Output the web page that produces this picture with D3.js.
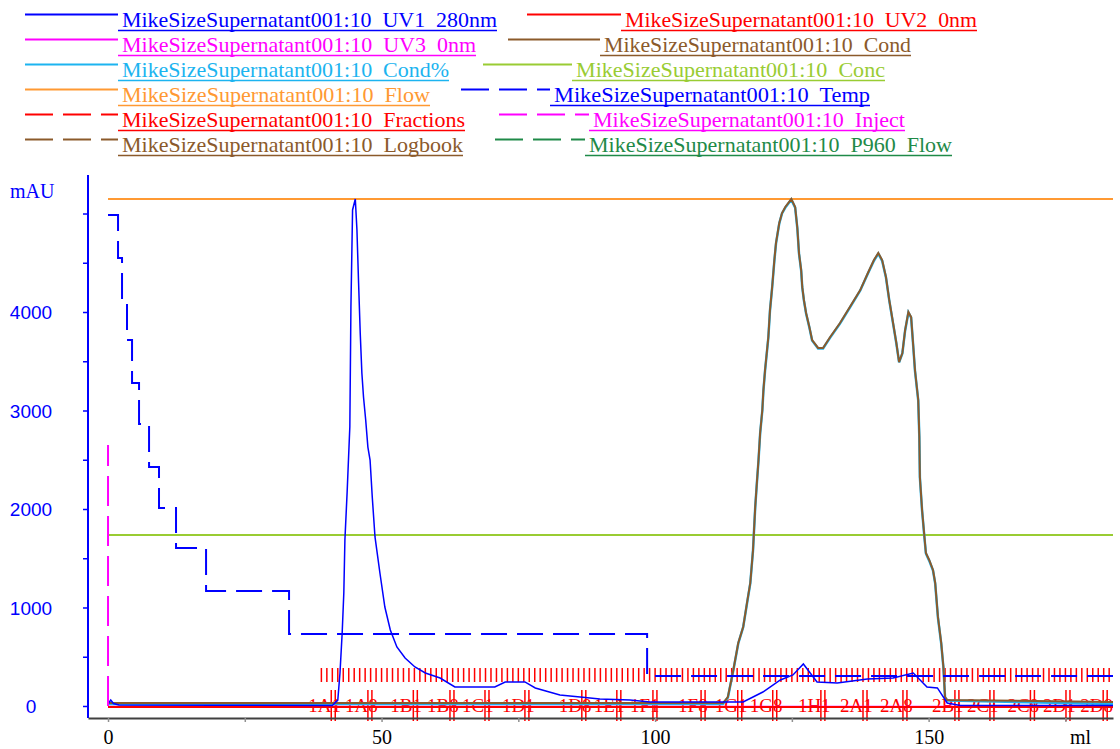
<!DOCTYPE html>
<html>
<head>
<meta charset="utf-8">
<script src="https://cdn.jsdelivr.net/npm/d3@7"></script>
<style>
  body { margin: 0; background: #fff; }
  svg { display: block; }
</style>
</head>
<body>
<div id="chart"></div>
<script>
// ---- DATA (ml, mAU) ----
const uv1 = [
  [0, 20], [0.5, 60], [1, 25], [2, 10], [20, 8], [41, 5], [42.0, 60], [42.4, 335], [42.8, 741],
  [43.1, 1147], [43.3, 1685], [43.7, 2162], [44.1, 2701], [44.2, 2832], [44.4, 4051], [44.7, 5036],
  [45.2, 5147], [45.5, 4832], [45.8, 4294], [46.1, 3787], [46.4, 3381], [46.7, 3137], [47.1, 2904],
  [47.5, 2629], [47.9, 2497], [48.3, 2122], [48.8, 1716], [49.7, 1350], [50.6, 1005], [51.6, 772],
  [52.8, 599], [54.3, 487], [56.1, 396], [58.0, 335], [60.7, 284], [63.4, 193], [70.7, 193],
  [72.6, 244], [76.2, 244], [78.1, 183], [82.6, 112], [86.3, 91], [89.9, 71], [95.4, 61],
  [99.1, 41], [108.2, 41], [116.1, 41], [119.7, 142], [122.9, 264], [125.2, 315], [127.1, 426],
  [129.6, 244], [133.3, 234], [138.8, 274], [143.5, 284], [147.2, 335], [149.7, 193], [151.6, 183],
  [153.4, 30], [155.8, 5], [183.7, 5]
];
const uv2 = [[0, -10], [183.7, -10]];
const uv3 = [[0, -5], [183.7, -5]];
const cond = [
  [0, 30], [112.4, 30], [113.3, 91], [114.3, 365], [115.2, 640], [116.1, 802], [116.8, 1046],
  [117.4, 1249], [117.9, 1584], [118.3, 2020], [118.6, 2264], [118.9, 2497], [119.2, 2772],
  [119.6, 3005], [119.8, 3208], [120.1, 3411], [120.7, 3746], [121.0, 4020], [121.4, 4254],
  [121.8, 4528], [122.1, 4701], [122.7, 4904], [123.2, 5005], [123.8, 5066], [124.9, 5147],
  [125.6, 5066], [126.0, 4853], [126.3, 4599], [126.7, 4426], [126.9, 4254], [127.2, 4122],
  [127.6, 3990], [128.2, 3848], [128.7, 3716], [129.8, 3635], [130.7, 3635], [132.0, 3746],
  [133.8, 3888], [135.6, 4051], [137.5, 4223], [138.9, 4396], [140.0, 4528], [140.8, 4599],
  [141.5, 4528], [142.2, 4355], [142.8, 4122], [143.5, 3888], [144.1, 3685], [144.6, 3492],
  [145.2, 3584], [145.7, 3817], [146.3, 4000], [146.8, 3949], [147.2, 3645], [147.5, 3411],
  [148.1, 3107], [148.3, 2731], [148.4, 2325], [148.8, 1990], [149.2, 1736], [149.5, 1553],
  [150.1, 1482], [150.8, 1381], [151.2, 1249], [151.7, 904], [152.3, 640], [152.7, 396],
  [153.0, 91], [153.4, 61], [183.7, 41]
];
const condPct = [
  [0, 20], [112.4, 20], [113.3, 85], [114.3, 360], [115.2, 635], [116.1, 800], [116.8, 1040],
  [117.4, 1245], [117.9, 1580], [118.3, 2015], [118.6, 2260], [118.9, 2490], [119.2, 2765],
  [119.6, 3000], [119.8, 3200], [120.1, 3405], [120.7, 3740], [121.0, 4015], [121.4, 4250],
  [121.8, 4520], [122.1, 4695], [122.7, 4900], [123.2, 5000], [123.8, 5060], [124.9, 5140],
  [125.6, 5060], [126.0, 4850], [126.3, 4595], [126.7, 4420], [126.9, 4250], [127.2, 4118],
  [127.6, 3985], [128.2, 3842], [128.7, 3710], [129.8, 3630], [130.7, 3630], [132.0, 3740],
  [133.8, 3882], [135.6, 4045], [137.5, 4218], [138.9, 4390], [140.0, 4520], [140.8, 4592],
  [141.5, 4520], [142.2, 4350], [142.8, 4118], [143.5, 3882], [144.1, 3680], [144.6, 3488],
  [145.2, 3580], [145.7, 3810], [146.3, 3995], [146.8, 3942], [147.2, 3640], [147.5, 3405],
  [148.1, 3100], [148.3, 2725], [148.4, 2320], [148.8, 1985], [149.2, 1730], [149.5, 1548],
  [150.1, 1476], [150.8, 1375], [151.2, 1243], [151.7, 898], [152.3, 634], [152.7, 390],
  [153.0, 85], [153.4, 55], [183.7, 20]
];
const temp = [
  [0, 4985], [1.83, 4548], [2.56, 4122], [3.47, 3716], [4.39, 3279], [5.67, 2863], [7.5, 2426],
  [9.32, 2010], [12.43, 1604], [17.92, 1168], [33.09, 731], [98.54, 305], [183.7, 305]
];
const flow = [[0, 5147], [183.7, 5147]];
const conc = [[0, 1736], [183.7, 1736]];
const inject = [[0, 0], [0, 2650]];

// fraction marks (ml) and fraction labels
const fractionTicks = [
  39, 40, 41, 42, 43, 44, 45, 46, 47, 48, 49, 50, 51, 52, 53, 54, 55, 56, 57, 58, 59, 60, 61, 62, 63,
  64, 65, 66, 67, 68, 69, 70, 71, 72, 73, 74, 75, 76, 77, 78, 79, 80, 81, 82, 83, 84, 85, 86, 87, 88,
  89, 90, 91, 92, 93, 94, 95, 96, 97, 98, 99, 100, 101, 102, 103, 104, 105, 106, 107, 108, 109, 110,
  111, 112, 113, 114, 115, 116, 117, 118, 119, 120, 121, 122, 123, 124, 125, 126, 127, 128, 129, 130,
  131, 132, 133, 134, 135, 136, 137, 138, 139, 140, 141, 142, 143, 144, 145, 146, 147, 148, 149, 150,
  151, 152, 153, 154, 155, 156, 157, 158, 159, 160, 161, 162, 163, 164, 165, 166, 167, 168, 169, 170,
  171, 172, 173, 174, 175, 176, 177, 178, 179, 180, 181, 182, 183
];
const fractionNames = ["1A1", "1A8", "1B1", "1B8", "1C1", "1D1", "1D8", "1E1", "1F1", "1F8",
  "1G1", "1G8", "1H1", "2A1", "2A8", "2B1", "2C1", "2C8", "2D1", "2D8"];
const fractionMl = [36.6, 43.3, 51.6, 58.3, 64.7, 72.0, 82.4, 88.8, 95.4, 104.2,
  110.9, 117.3, 126.1, 133.8, 141.1, 150.6, 157.0, 164.4, 170.9, 177.7];

const yTickLabels = [0, 1000, 2000, 3000, 4000];
const xTickLabels = [0, 50, 100, 150];

const runName = "MikeSizeSupernatant001:10  ";
const legendNames = ["UV1  280nm", "UV2  0nm", "UV3  0nm", "Cond", "Cond%", "Conc",
  "Flow", "Temp", "Fractions", "Inject", "Logbook", "P960  Flow"];

// ---- STYLE / LAYOUT ----
const col = {
  blue: "#0000ff", red: "#ff0000", magenta: "#ff00ff", brown: "#8b5a2b",
  cyan: "#1cb4f0", conc: "#99cc33", flow: "#ff9933", green: "#1f8a48"
};
const legendStyle = [
  { c: col.blue, dash: null },    { c: col.red, dash: null },
  { c: col.magenta, dash: null }, { c: col.brown, dash: null },
  { c: col.cyan, dash: null },    { c: col.conc, dash: null },
  { c: col.flow, dash: null },    { c: col.blue, dash: "28,10" },
  { c: col.red, dash: "28,10" },  { c: col.magenta, dash: "28,10" },
  { c: col.brown, dash: "28,10" },{ c: col.green, dash: "28,10" }
];
// [lineStart, lineEnd, textEnd] per legend entry
const legendPos = [
  [25, 118, 497], [527, 621, 977],
  [25, 118, 476], [508, 600, 911],
  [25, 118, 449], [483, 572, 885],
  [25, 118, 430], [461, 550, 870],
  [25, 118, 465], [499, 589, 905],
  [25, 118, 463], [495, 585, 952]
];

const W = 1120, H = 749;
const svg = d3.select("#chart").append("svg")
  .attr("width", W).attr("height", H)
  .style("font-family", "'Liberation Serif', 'Times New Roman', serif");

const x = d3.scaleLinear().domain([-3.66, 183.7]).range([88, 1113]);
const y = d3.scaleLinear().domain([-122, 5391]).range([718, 175]);

const line = d3.line().x(d => x(d[0])).y(d => y(d[1]));

// ---- LEGEND ----
const leg = svg.append("g").attr("class", "legend");
legendNames.forEach((name, i) => {
  const row = Math.floor(i / 2);
  const [x0, x1, x2] = legendPos[i];
  const st = legendStyle[i];
  const g = leg.append("g").attr("transform", `translate(0,${row * 25})`);
  g.append("line")
    .attr("x1", x0).attr("x2", x1).attr("y1", 14.5).attr("y2", 14.5)
    .attr("stroke", st.c).attr("stroke-width", 2)
    .attr("stroke-dasharray", st.dash);
  g.append("text")
    .attr("x", x1 + 4).attr("y", 27)
    .attr("fill", st.c)
    .style("font-size", "21px")
    .style("white-space", "pre")
    .attr("textLength", x2 - x1 - 4)
    .attr("lengthAdjust", "spacingAndGlyphs")
    .text(runName + name);
  g.append("line")
    .attr("x1", x1).attr("x2", x2).attr("y1", 30.5).attr("y2", 30.5)
    .attr("stroke", st.c).attr("stroke-width", 1.5);
});

// ---- CURVES ----
const plot = svg.append("g").attr("class", "plot");

plot.append("path").datum(flow).attr("d", line)
  .attr("fill", "none").attr("stroke", col.flow).attr("stroke-width", 2);
plot.append("path").datum(conc).attr("d", line)
  .attr("fill", "none").attr("stroke", col.conc).attr("stroke-width", 2);

// fractions
const frac = plot.append("g").attr("class", "fractions");
frac.selectAll("line.tick")
  .data(fractionTicks).enter().append("line")
  .attr("class", "tick")
  .attr("x1", d => x(d)).attr("x2", d => x(d))
  .attr("y1", 668).attr("y2", 682)
  .attr("stroke", col.red).attr("stroke-width", 1.5);
frac.selectAll("line.bar")
  .data(fractionMl).enter().append("line")
  .attr("class", "bar")
  .attr("x1", d => x(d) + 23).attr("x2", d => x(d) + 23)
  .attr("y1", 690).attr("y2", 721)
  .attr("stroke", col.red).attr("stroke-width", 1.5);
frac.selectAll("line.bar2")
  .data(fractionMl).enter().append("line")
  .attr("class", "bar2")
  .attr("x1", d => x(d) + 27).attr("x2", d => x(d) + 27)
  .attr("y1", 690).attr("y2", 721)
  .attr("stroke", col.red).attr("stroke-width", 1.5);
frac.selectAll("text")
  .data(fractionNames).enter().append("text")
  .attr("x", (d, i) => x(fractionMl[i]))
  .attr("y", 712)
  .attr("fill", col.red)
  .style("font-size", "19px")
  .text(d => d);

plot.append("path").datum(uv3).attr("d", line)
  .attr("fill", "none").attr("stroke", col.magenta).attr("stroke-width", 1.5);
plot.append("path").datum(uv2).attr("d", line)
  .attr("fill", "none").attr("stroke", col.red).attr("stroke-width", 2);
plot.append("path").datum(condPct).attr("d", line)
  .attr("fill", "none").attr("stroke", col.cyan).attr("stroke-width", 2.5);
plot.append("path").datum(cond).attr("d", line)
  .attr("fill", "none").attr("stroke", col.brown).attr("stroke-width", 2);
plot.append("path").datum(uv1).attr("d", line)
  .attr("fill", "none").attr("stroke", col.blue).attr("stroke-width", 1.5);
plot.append("path").datum(temp)
  .attr("d", d3.line().x(d => x(d[0])).y(d => y(d[1])).curve(d3.curveStepAfter))
  .attr("fill", "none").attr("stroke", col.blue).attr("stroke-width", 2)
  .attr("stroke-dasharray", "26,10");
plot.append("path").datum(inject).attr("d", line)
  .attr("fill", "none").attr("stroke", col.magenta).attr("stroke-width", 2)
  .attr("stroke-dasharray", "30,10");

// ---- AXES ----
const yAxis = svg.append("g")
  .attr("transform", "translate(88,0)")
  .call(d3.axisLeft(y)
    .tickValues(d3.range(0, 5001, 500))
    .tickSize(5).tickSizeOuter(0)
    .tickFormat(d => yTickLabels.includes(d) ? d : ""));
yAxis.select(".domain").attr("stroke", col.blue).attr("stroke-width", 2);
yAxis.selectAll(".tick line").attr("stroke", col.blue).attr("stroke-width", 1.5);
yAxis.selectAll(".tick text")
  .attr("x", -57).attr("dy", "0.36em")
  .attr("text-anchor", "middle")
  .attr("fill", col.blue)
  .style("font-family", "'Liberation Sans', Arial, sans-serif")
  .style("font-size", "19px");
// stretch the axis line up to the top
yAxis.select(".domain").attr("d", "M0,175V718");

svg.append("text")
  .attr("x", 10).attr("y", 198)
  .attr("fill", col.blue)
  .style("font-size", "20px")
  .text("mAU");

const xAxis = svg.append("g")
  .attr("transform", "translate(0,718)")
  .call(d3.axisBottom(x)
    .tickValues(d3.range(0, 176, 25))
    .tickSize(4).tickSizeOuter(0)
    .tickFormat(d => xTickLabels.includes(d) ? d : ""));
xAxis.select(".domain").attr("stroke", "#404040").attr("stroke-width", 2);
xAxis.selectAll(".tick line").attr("stroke", "#909090").attr("stroke-width", 1.5);
xAxis.selectAll(".tick text")
  .attr("y", 12).attr("dy", "0.71em")
  .attr("fill", "#000")
  .style("font-family", "'Liberation Serif', 'Times New Roman', serif")
  .style("font-size", "20px");

svg.append("text")
  .attr("x", 1070).attr("y", 744)
  .attr("fill", "#000")
  .style("font-size", "20px")
  .text("ml");
</script>
</body>
</html>
